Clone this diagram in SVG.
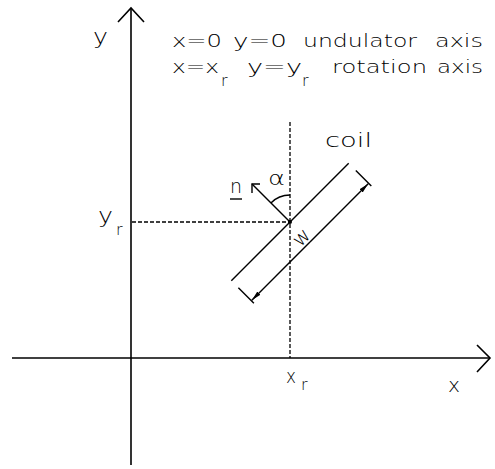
<svg xmlns="http://www.w3.org/2000/svg" width="495" height="469" viewBox="0 0 495 469">
<style>
  text { font-family: "DejaVu Sans", "Liberation Sans", Arial, sans-serif; font-weight: 200; fill: #000; }
  .ax { stroke: #000; stroke-width: 1.6; fill: none; }
  .ln { stroke: #000; stroke-width: 1.4; fill: none; }
  .dash { stroke: #000; stroke-width: 1.3; stroke-dasharray: 4 2; fill: none; }
  .hd { font-size: 18px; }
  .sub { font-size: 16px; }
</style>
<defs>
  <marker id="dimArrow" viewBox="0 0 10 6" refX="10" refY="3" markerWidth="10" markerHeight="6" markerUnits="userSpaceOnUse" orient="auto">
    <path d="M0,0.8 L10,3 L0,5.2 Z" fill="#000"/>
  </marker>
</defs>
<rect width="495" height="469" fill="#fff"/>

<g id="connectors">
  <!-- axes -->
  <line class="ax" x1="131" y1="465" x2="131" y2="8"/>
  <polyline class="ax" points="118,22 131,8 144,22"/>
  <line class="ax" x1="12" y1="358" x2="490" y2="358"/>
  <polyline class="ax" points="477,345 490,358 477,372"/>
  <!-- dashed guides -->
  <line class="dash" x1="132" y1="222" x2="290" y2="222"/>
  <line class="dash" x1="290" y1="122" x2="290" y2="358"/>
  <!-- normal vector n -->
  <line class="ln" x1="290" y1="222" x2="252" y2="184"/>
  <polyline class="ln" points="260,184 252,184 252,193"/>
  <!-- angle arc alpha -->
  <path class="ln" d="M290,195 A27,27 0 0 0 270.9,202.9"/>
</g>

<g id="coil">
  <line class="ln" x1="231.3" y1="280.7" x2="348.7" y2="163.3"/>
  <circle cx="290" cy="222" r="2" fill="#000"/>
  <text x="325" y="147" font-size="20" textLength="47" lengthAdjust="spacingAndGlyphs">coil</text>
</g>

<g id="width-dimension">
  <line class="ln" x1="238.4" y1="287.8" x2="253.9" y2="303.3"/>
  <line class="ln" x1="355.8" y1="170.4" x2="371.3" y2="185.9"/>
  <line class="ln" x1="310" y1="242" x2="251.8" y2="300.2" marker-end="url(#dimArrow)"/>
  <line class="ln" x1="310" y1="242" x2="368.2" y2="183.8" marker-end="url(#dimArrow)"/>
  <text x="0" y="0" font-size="20" text-anchor="middle" transform="translate(306,242) rotate(-45)">w</text>
</g>

<g id="labels">
  <text x="93" y="44" font-size="21" textLength="15" lengthAdjust="spacingAndGlyphs">y</text>
  <text x="98" y="223" font-size="21" textLength="15" lengthAdjust="spacingAndGlyphs">y</text>
  <text class="sub" x="116" y="235">r</text>
  <text x="286" y="383" font-size="19" textLength="10" lengthAdjust="spacingAndGlyphs">x</text>
  <text class="sub" x="301" y="390">r</text>
  <text x="448" y="392" font-size="20" textLength="12" lengthAdjust="spacingAndGlyphs">x</text>
  <text x="230" y="193" font-size="19" textLength="12" lengthAdjust="spacingAndGlyphs">n</text>
  <line class="ln" x1="230" y1="199" x2="242" y2="199"/>
  <text x="268" y="185" font-size="20" textLength="17" lengthAdjust="spacingAndGlyphs">α</text>
</g>

<g id="legend">
  <text class="hd" x="172" y="46.5" textLength="50" lengthAdjust="spacingAndGlyphs">x=0</text>
  <text class="hd" x="233" y="46.5" textLength="54" lengthAdjust="spacingAndGlyphs">y=0</text>
  <text class="hd" x="303" y="46.5" textLength="114" lengthAdjust="spacingAndGlyphs">undulator</text>
  <text class="hd" x="435" y="46.5" textLength="48" lengthAdjust="spacingAndGlyphs">axis</text>
  <text class="hd" x="172" y="73.3" textLength="47" lengthAdjust="spacingAndGlyphs">x=x</text>
  <text class="sub" x="221" y="86">r</text>
  <text class="hd" x="247" y="73.3" textLength="55" lengthAdjust="spacingAndGlyphs">y=y</text>
  <text class="sub" x="302" y="86">r</text>
  <text class="hd" x="332" y="73.3" textLength="95" lengthAdjust="spacingAndGlyphs">rotation</text>
  <text class="hd" x="437" y="73.3" textLength="46" lengthAdjust="spacingAndGlyphs">axis</text>
</g>
</svg>
